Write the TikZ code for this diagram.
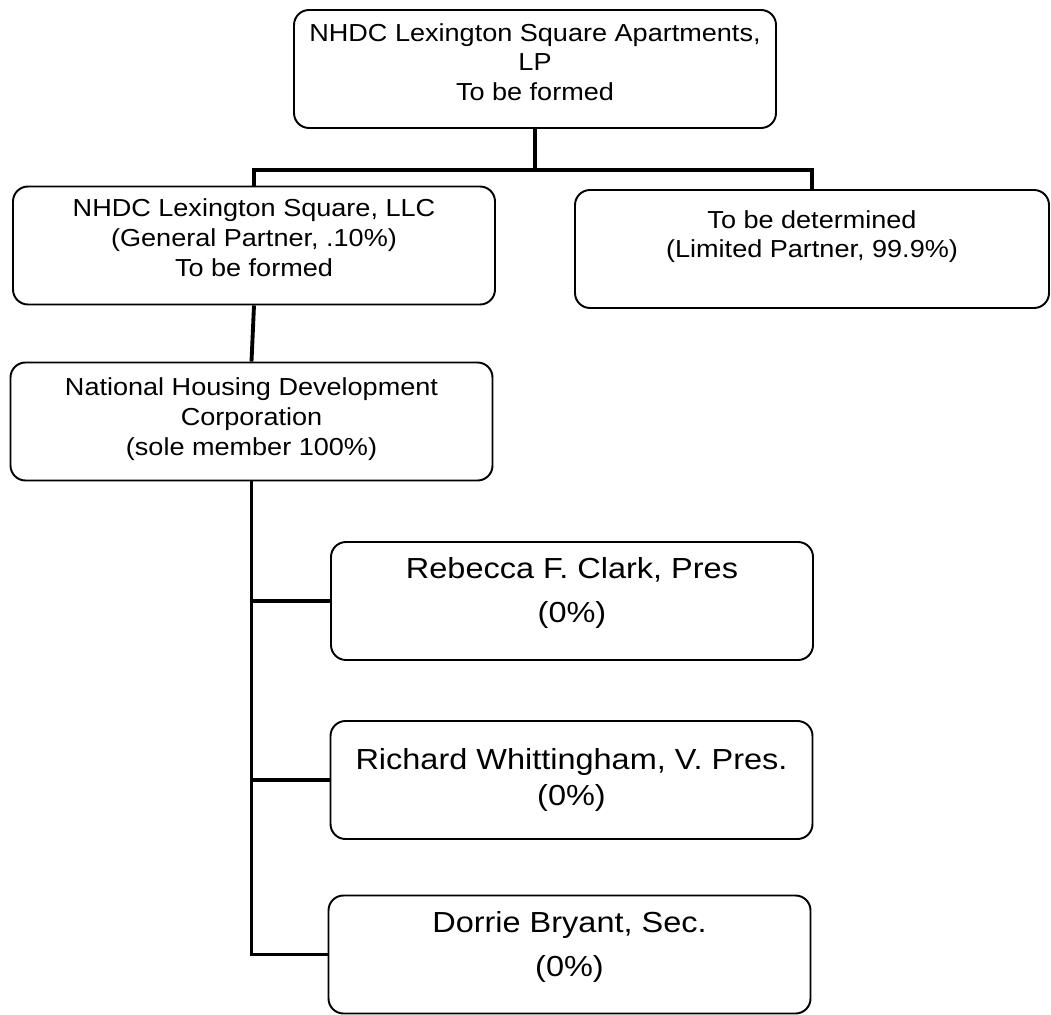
\documentclass[tikz,border=0pt]{standalone}
\usepackage{fontspec}
\setmainfont{Liberation Sans}
\newfontfamily\entfont[FakeStretch=1.1]{Liberation Sans}
\newfontfamily\offfont[FakeStretch=1.12]{Liberation Sans}
\newcommand{\bx}{\entfont\fontsize{14}{17}\selectfont}
\newcommand{\pn}{\offfont\fontsize{16.5}{19.8}\selectfont}

\begin{document}
\begin{tikzpicture}[
   entity/.style={draw=black,line width=1.1pt,rounded corners=0.3cm,
      minimum width=9.64cm,minimum height=2.36cm,align=center,inner sep=0pt,font=\bx},
   officer/.style={entity,font=\pn},
   link/.style={line width=2.2pt}]
   \useasboundingbox (0,0) rectangle (21.02,-20.30);
   % partnership and its partners (trailing \\ lifts the text a little)
   \node[entity] (apts) at (10.70,-1.38) {NHDC Lexington Square Apartments,\\LP\\To be formed\\[-9pt]};
   \node[entity] (gp) at (5.08,-4.91) {NHDC Lexington Square, LLC\\(General Partner, .10\%)\\To be formed\\[-8pt]};
   \node[entity,minimum width=9.48cm] (lp) at (16.24,-4.98) {To be determined\\(Limited Partner, 99.9\%)\\};
   \node[entity] (nhdc) at (5.03,-8.43) {National Housing Development\\Corporation\\(sole member 100\%)\\[-11pt]};
   % officers
   \node[officer] (pres) at (11.44,-12.02) {Rebecca F. Clark, Pres\\[5pt](0\%)\\[-7pt]};
   \node[officer] (vp) at (11.43,-15.60) {Richard Whittingham, V. Pres.\\[1pt](0\%)};
   \node[officer] (sec) at (11.39,-19.09) {Dorrie Bryant, Sec.\\[5pt](0\%)\\[-8pt]};
   % connectors
   \draw[link] (apts.south) -- ++(0,-0.82) coordinate (bus);
   \draw[link] (gp.north) |- (bus) -| (lp.north);
   \draw[link] (gp.south) -- (nhdc.north);
   \draw[link] (nhdc.south) |- (pres.west);
   \draw[link] (nhdc.south) |- (vp.west);
   \draw[link] (nhdc.south) |- (sec.west);
\end{tikzpicture}
\end{document}
